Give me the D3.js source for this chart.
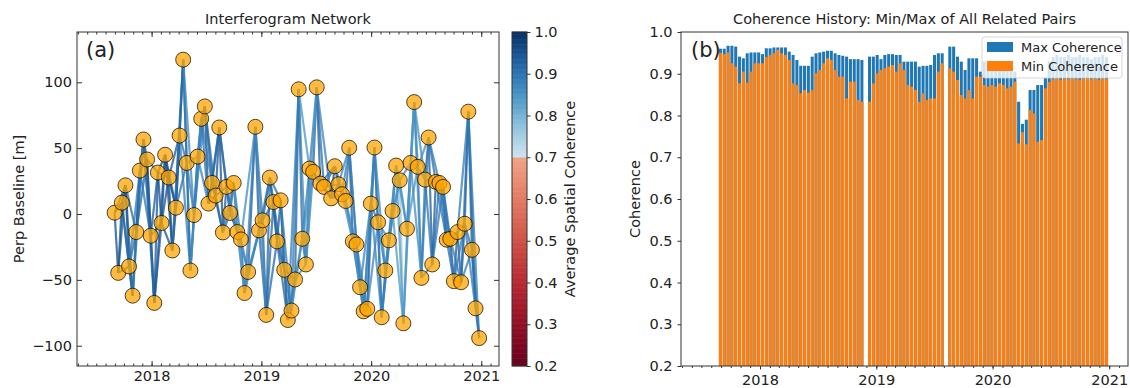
<!DOCTYPE html>
<meta charset="utf-8">
<style>
  body {
    margin: 0;
    background: #fff;
  }
  svg {
    display: block;
    font-family: "DejaVu Sans", sans-serif;
  }
  .axis path {
    display: none;
  }
  .axis line {
    stroke: #333;
  }
  .axis text {
    font-family: "DejaVu Sans", sans-serif;
    font-size: 14.5px;
    fill: #222;
  }
  .title {
    font-size: 14.5px;
    fill: #222;
    text-anchor: middle;
  }
  .label {
    font-size: 14.5px;
    fill: #222;
    text-anchor: middle;
  }
</style>
<body>
<div id="chart"></div>
<script src="https://d3js.org/d3.v7.min.js"></script>
<script>

var width = 1130,
    height = 388;

// acquisition dates (12 day repeat, two acquisitions missing)
var dates = [
  "2017-08-31","2017-09-12","2017-09-24","2017-10-06","2017-10-18","2017-10-30","2017-11-11","2017-11-23","2017-12-05","2017-12-17",
  "2017-12-29","2018-01-10","2018-01-22","2018-02-03","2018-02-15","2018-02-27","2018-03-11","2018-03-23","2018-04-04","2018-04-16",
  "2018-04-28","2018-05-10","2018-05-22","2018-06-03","2018-06-15","2018-06-27","2018-07-09","2018-07-21","2018-08-02","2018-08-14",
  "2018-08-26","2018-09-07","2018-09-19","2018-10-01","2018-10-13","2018-10-25","2018-11-06","2018-11-18",
  "2018-12-12","2018-12-24","2019-01-05","2019-01-17","2019-01-29","2019-02-10","2019-02-22","2019-03-06","2019-03-18","2019-03-30",
  "2019-04-11","2019-04-23","2019-05-05","2019-05-17","2019-05-29","2019-06-10","2019-06-22","2019-07-04","2019-07-16","2019-07-28",
  "2019-08-21","2019-09-02","2019-09-14","2019-09-26","2019-10-08","2019-10-20","2019-11-01","2019-11-13","2019-11-25","2019-12-07",
  "2019-12-19","2019-12-31","2020-01-12","2020-01-24","2020-02-05","2020-02-17","2020-02-29","2020-03-12","2020-03-24","2020-04-05",
  "2020-04-17","2020-04-29","2020-05-11","2020-05-23","2020-06-04","2020-06-16","2020-06-28","2020-07-10","2020-07-22","2020-08-03",
  "2020-08-15","2020-08-27","2020-09-08","2020-09-20","2020-10-02","2020-10-14","2020-10-26","2020-11-07","2020-11-19","2020-12-01",
  "2020-12-13","2020-12-25"
];

// perpendicular baseline [m]
var baseline = [
  1, -44.7, 8.6, 21.8, -39.8, -62, -13.7, 33, 56.6, 41.4,
  -16.5, -67.5, 31.5, -6.8, 45, 27.7, -27.7, 4.8, 59.6, 117.2,
  38.8, -42.9, -0.8, 43.6, 72.3, 81.7, 7.9, 23.6, 14, 65.7,
  -14, 20.6, 0.8, 23.6, -13.7, -19.3, -60, -44,
  66.2, -12.4, -4.8, -76.6, 27.7, 9.1, -20.8, 10.4, -42.4, -80.5,
  -73.3, -49.7, 94.7, -18.8, -38.3, 34.5, 32, 96.2, 23.1, 20.6,
  11.9, 36.3, 22.6, 15, 9.9, 50.3, -20.8, -23.1, -55.6, -73.9,
  -72, 7.9, 50.5, -6.3, -78.4, -42.9, -20, 2.3, 36.8, 25.6,
  -83, -11.2, 38.8, 85, 35.8, -48.5, 26.1, 58.1, -38.3, 24.4,
  23.6, 20.6, -19.5, -18.8, -51, -13.7, -51.8, -7.4, 77.7, -27.2,
  -71.6, -94.2
];

// average spatial coherence of pairs: date i with date i+1, i+2, i+3
var cohLag1 = [
  0.96,0.96,0.97,0.96,0.94,0.94,0.94,0.95,0.95,0.95,
  0.95,0.95,0.96,0.96,0.96,0.96,0.96,0.95,0.94,0.93,
  0.92,0.92,0.92,0.92,0.94,0.95,0.95,0.95,0.95,0.95,
  0.94,0.94,0.94,0.93,0.93,0.93,0.93,0.93,0.94,0.94,
  0.93,0.93,0.94,0.95,0.94,0.94,0.93,0.93,0.93,0.93,
  0.92,0.92,0.92,0.92,0.92,0.94,0.95,0.95,0.96,0.94,
  0.93,0.91,0.91,0.94,0.94,0.90,0.90,0.93,0.93,0.93,
  0.92,0.92,0.92,0.92,0.90,0.87,0.86,0.77,0.75,0.88,
  0.88,0.89,0.89,0.90,0.93,0.94,0.94,0.94,0.94,0.94,
  0.94,0.94,0.94,0.94,0.93,0.93,0.94,0.94,0.94
];
var cohLag2 = [
  0.95,0.94,0.94,0.94,0.92,0.91,0.93,0.92,0.93,0.94,
  0.94,0.94,0.95,0.95,0.95,0.95,0.93,0.93,0.91,0.90,
  0.89,0.89,0.90,0.90,0.91,0.93,0.93,0.93,0.93,0.93,
  0.91,0.91,0.91,0.88,0.89,0.89,0.89,0.90,0.90,0.92,
  0.92,0.92,0.92,0.93,0.93,0.91,0.91,0.91,0.89,0.89,
  0.88,0.88,0.88,0.89,0.90,0.91,0.93,0.93,0.92,0.90,
  0.90,0.88,0.89,0.91,0.90,0.89,0.89,0.90,0.90,0.90,
  0.89,0.89,0.90,0.88,0.87,0.87,0.84,0.86,0.85,0.86,
  0.86,0.86,0.88,0.88,0.90,0.91,0.91,0.91,0.91,0.91,
  0.91,0.91,0.91,0.91,0.91,0.91,0.91,0.91
];
var cohLag3 = [
  0.94,0.93,0.91,0.92,0.90,0.89,0.92,0.90,0.92,0.93,
  0.94,0.94,0.95,0.95,0.95,0.95,0.91,0.91,0.89,0.87,
  0.86,0.86,0.88,0.88,0.89,0.92,0.92,0.92,0.92,0.91,
  0.88,0.89,0.89,0.84,0.86,0.86,0.86,0.87,0.87,0.90,
  0.91,0.92,0.91,0.92,0.92,0.89,0.90,0.89,0.85,0.86,
  0.85,0.84,0.85,0.87,0.88,0.88,0.91,0.91,0.88,0.87,
  0.87,0.85,0.87,0.88,0.86,0.88,0.88,0.87,0.87,0.87,
  0.87,0.87,0.88,0.86,0.86,0.84,0.85,0.86,0.84,0.85,
  0.86,0.86,0.86,0.88,0.88,0.89,0.89,0.89,0.89,0.89,
  0.89,0.89,0.89,0.89,0.89,0.89,0.89
];

// coherence history: max / min of all related pairs per date
var maxCoh = [
  0.960,0.960,0.967,0.967,0.965,0.941,0.937,0.949,0.951,0.951,
  0.951,0.947,0.961,0.961,0.963,0.963,0.963,0.963,0.953,0.945,
  0.933,0.919,0.919,0.919,0.941,0.949,0.951,0.953,0.955,0.955,
  0.949,0.945,0.943,0.941,0.935,0.935,0.935,0.933,0.941,0.941,
  0.945,0.935,0.945,0.947,0.947,0.945,0.945,0.929,0.929,0.929,
  0.929,0.917,0.919,0.919,0.921,0.945,0.949,0.949,0.965,0.965,
  0.941,0.929,0.909,0.937,0.937,0.937,0.905,0.930,0.930,0.930,
  0.930,0.925,0.925,0.920,0.920,0.905,0.833,0.780,0.790,0.861,
  0.861,0.873,0.873,0.890,0.930,0.940,0.945,0.940,0.940,0.945,
  0.940,0.940,0.945,0.940,0.940,0.935,0.940,0.940,0.945,0.940
];
var minCoh = [
  0.950,0.947,0.951,0.925,0.917,0.877,0.905,0.879,0.905,0.925,
  0.925,0.925,0.940,0.945,0.949,0.957,0.949,0.945,0.933,0.877,
  0.873,0.853,0.861,0.855,0.861,0.901,0.909,0.925,0.937,0.933,
  0.909,0.893,0.893,0.841,0.881,0.881,0.837,0.833,0.833,0.877,
  0.901,0.909,0.913,0.917,0.921,0.905,0.925,0.909,0.873,0.869,
  0.861,0.833,0.853,0.837,0.841,0.841,0.905,0.925,0.913,0.905,
  0.885,0.849,0.841,0.861,0.841,0.893,0.893,0.873,0.869,0.873,
  0.869,0.877,0.873,0.865,0.869,0.881,0.733,0.760,0.731,0.813,
  0.805,0.737,0.741,0.865,0.880,0.887,0.889,0.886,0.888,0.887,
  0.889,0.887,0.886,0.888,0.889,0.887,0.888,0.886,0.889,0.887
];

var xLimits = ["2017-04-28", "2021-03-01"];
var yearTicks = ["2018-01-01", "2019-01-01", "2020-01-01", "2021-01-01"];
var bperpTicks = [-100, -50, 0, 50, 100];
var cohTicks = [0.2, 0.3, 0.4, 0.5, 0.6, 0.7, 0.8, 0.9, 1.0];
var legendLabels = ["Max Coherence", "Min Coherence"];

var parseDate = d3.timeParse("%Y-%m-%d");
var acq = dates.map(parseDate);
var xDomain = xLimits.map(parseDate);
var years = yearTicks.map(parseDate);
var months = d3.timeMonth.range(xDomain[0], xDomain[1]);

var maxColor = "#1f77b4",
    minColor = "#ff7f0e";

// RdBu with the white middle cut out at 0.7
function cohColor(v) {
  v = Math.max(0.2, Math.min(1, v));
  if (v < 0.7) return d3.interpolateRdBu((v - 0.2) / 0.5 * 0.3);
  return d3.interpolateRdBu(0.6 + (v - 0.7) / 0.3 * 0.4);
}

var svg = d3.select("#chart").append("svg")
  .attr("width", width)
  .attr("height", height);

// ---------- (a) interferogram network ----------
var p1 = {left: 77, right: 499, top: 32, bottom: 366};

var x1 = d3.scaleTime().domain(xDomain).range([p1.left, p1.right]);
var y1 = d3.scaleLinear().domain([-115.4, 138.2]).range([p1.bottom, p1.top]);

var pairs = [];
[cohLag1, cohLag2, cohLag3].forEach(function(arr, li) {
  var lag = li + 1;
  arr.forEach(function(c, i) {
    if (i + lag < acq.length) pairs.push({a: i, b: i + lag, coh: c});
  });
});

var net = svg.append("g");

net.selectAll("line.pair")
  .data(pairs)
  .enter().append("line")
  .attr("class", "pair")
  .attr("x1", function(d) { return x1(acq[d.a]); })
  .attr("y1", function(d) { return y1(baseline[d.a]); })
  .attr("x2", function(d) { return x1(acq[d.b]); })
  .attr("y2", function(d) { return y1(baseline[d.b]); })
  .attr("stroke", function(d) { return cohColor(d.coh); })
  .attr("stroke-width", 2.2)
  .attr("stroke-opacity", 0.75);

net.selectAll("circle")
  .data(acq)
  .enter().append("circle")
  .attr("cx", function(d) { return x1(d); })
  .attr("cy", function(d, i) { return y1(baseline[i]); })
  .attr("r", 7.5)
  .attr("fill", "#ffa500")
  .attr("fill-opacity", 0.75)
  .attr("stroke", "#000")
  .attr("stroke-opacity", 0.7)
  .attr("stroke-width", 1);

function addAxis(axis, tx, ty) {
  return svg.append("g")
    .attr("class", "axis")
    .attr("transform", "translate(" + tx + "," + ty + ")")
    .call(axis);
}

// ticks point inward on all four sides
addAxis(d3.axisBottom(x1).tickValues(months).tickSize(-2.5).tickFormat(""), 0, p1.bottom);
addAxis(d3.axisBottom(x1).tickValues(years).tickSize(-5).tickPadding(5)
  .tickFormat(d3.timeFormat("%Y")), 0, p1.bottom);
addAxis(d3.axisTop(x1).tickValues(months).tickSize(-2.5).tickFormat(""), 0, p1.top);
addAxis(d3.axisTop(x1).tickValues(years).tickSize(-5).tickFormat(""), 0, p1.top);
addAxis(d3.axisLeft(y1).tickValues(bperpTicks).tickSize(-5).tickPadding(5), p1.left, 0);
addAxis(d3.axisRight(y1).tickValues(bperpTicks).tickSize(-5).tickFormat(""), p1.right, 0);

svg.append("rect")
  .attr("x", p1.left).attr("y", p1.top)
  .attr("width", p1.right - p1.left).attr("height", p1.bottom - p1.top)
  .attr("fill", "none").attr("stroke", "#333");

svg.append("text").attr("class", "title")
  .attr("x", (p1.left + p1.right) / 2).attr("y", 24)
  .text("Interferogram Network");

svg.append("text").attr("class", "label")
  .attr("transform", "translate(24," + (p1.top + p1.bottom) / 2 + ") rotate(-90)")
  .text("Perp Baseline [m]");

svg.append("text")
  .attr("x", 86).attr("y", 57)
  .attr("font-size", "21px").attr("fill", "#222")
  .text("(a)");

// colorbar
var cb = {left: 512, right: 527};
var yc = d3.scaleLinear().domain([0.2, 1.0]).range([p1.bottom, p1.top]);
var cbStep = 0.002;

svg.append("g").selectAll("rect")
  .data(d3.range(0.2, 1.0, cbStep))
  .enter().append("rect")
  .attr("x", cb.left)
  .attr("width", cb.right - cb.left)
  .attr("y", function(d) { return yc(d + cbStep) - 0.3; })
  .attr("height", function(d) { return yc(d) - yc(d + cbStep) + 0.6; })
  .attr("fill", function(d) { return cohColor(d + cbStep / 2); });

svg.append("rect")
  .attr("x", cb.left).attr("y", p1.top)
  .attr("width", cb.right - cb.left).attr("height", p1.bottom - p1.top)
  .attr("fill", "none").attr("stroke", "#333");

addAxis(d3.axisRight(yc).tickValues(cohTicks).tickSize(3.5).tickPadding(4)
  .tickFormat(d3.format(".1f")), cb.right, 0);

svg.append("text").attr("class", "label")
  .attr("transform", "translate(575," + (p1.top + p1.bottom) / 2 + ") rotate(-90)")
  .text("Average Spatial Coherence");

// ---------- (b) coherence history ----------
var p2 = {left: 681, right: 1128, top: 32, bottom: 366};

var x2 = d3.scaleTime().domain(xDomain).range([p2.left, p2.right]);
var y2 = d3.scaleLinear().domain([0.2, 1.0]).range([p2.bottom, p2.top]);

function barX(d) { return x2(d3.timeDay.offset(d, -6)); }
function barW(d) { return x2(d3.timeDay.offset(d, 6)) - x2(d3.timeDay.offset(d, -6)) - 0.8; }

var bars = svg.append("g");

bars.selectAll("rect.max")
  .data(acq)
  .enter().append("rect")
  .attr("class", "max")
  .attr("x", barX)
  .attr("width", barW)
  .attr("y", function(d, i) { return y2(maxCoh[i]); })
  .attr("height", function(d, i) { return y2(0.2) - y2(maxCoh[i]); })
  .attr("fill", maxColor);

bars.selectAll("rect.min")
  .data(acq)
  .enter().append("rect")
  .attr("class", "min")
  .attr("x", barX)
  .attr("width", barW)
  .attr("y", function(d, i) { return y2(minCoh[i]); })
  .attr("height", function(d, i) { return y2(0.2) - y2(minCoh[i]); })
  .attr("fill", minColor);

addAxis(d3.axisBottom(x2).tickValues(months).tickSize(2).tickFormat(""), 0, p2.bottom);
addAxis(d3.axisBottom(x2).tickValues(years).tickSize(3.5).tickPadding(5)
  .tickFormat(d3.timeFormat("%Y")), 0, p2.bottom);
addAxis(d3.axisLeft(y2).tickValues(cohTicks).tickSize(3.5).tickPadding(5)
  .tickFormat(d3.format(".1f")), p2.left, 0);

svg.append("rect")
  .attr("x", p2.left).attr("y", p2.top)
  .attr("width", p2.right - p2.left).attr("height", p2.bottom - p2.top)
  .attr("fill", "none").attr("stroke", "#333");

svg.append("text").attr("class", "title")
  .attr("x", (p2.left + p2.right) / 2).attr("y", 24)
  .text("Coherence History: Min/Max of All Related Pairs");

svg.append("text").attr("class", "label")
  .attr("transform", "translate(640," + (p2.top + p2.bottom) / 2 + ") rotate(-90)")
  .text("Coherence");

svg.append("text")
  .attr("x", 691).attr("y", 57)
  .attr("font-size", "21px").attr("fill", "#222")
  .text("(b)");

// legend
var legend = svg.append("g").attr("transform", "translate(982,37)");

legend.append("rect")
  .attr("width", 140).attr("height", 41)
  .attr("rx", 3)
  .attr("fill", "#fff").attr("fill-opacity", 0.8)
  .attr("stroke", "#ccc").attr("stroke-width", 0.8);

var item = legend.selectAll("g.item")
  .data(legendLabels)
  .enter().append("g")
  .attr("class", "item")
  .attr("transform", function(d, i) { return "translate(5," + (5 + i * 19) + ")"; });

item.append("rect")
  .attr("width", 26).attr("height", 10)
  .attr("fill", function(d, i) { return i === 0 ? maxColor : minColor; });

item.append("text")
  .attr("x", 34).attr("y", 10)
  .attr("font-size", "13px").attr("fill", "#222")
  .text(function(d) { return d; });

</script>
</body>
